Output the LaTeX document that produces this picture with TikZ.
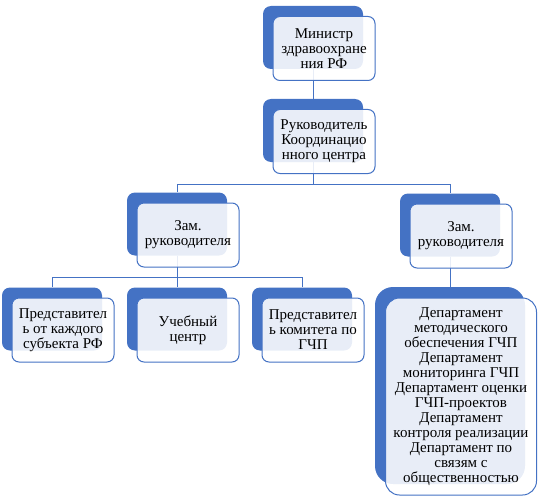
\documentclass[tikz,border=0pt]{standalone}
\usepackage{fontspec}
\setmainfont{Liberation Serif}
\newfontfamily\orgfont{Liberation Serif}
\usetikzlibrary{positioning,backgrounds}
\definecolor{orgblue}{RGB}{68,114,196}

\begin{document}
\begin{tikzpicture}[x=1pt,y=-1pt,font=\orgfont\fontsize{15}{15}\selectfont,
   back/.style={fill=orgblue,rounded corners=8pt,minimum width=100pt,minimum height=63pt,
             inner sep=0pt},
   front/.style={draw=orgblue,line width=1pt,fill=white,fill opacity=0.88,text opacity=1,
             rounded corners=7pt,minimum width=102pt,minimum height=64pt,inner sep=1pt,
             align=center,xshift=11pt,yshift=-11pt},
   link/.style={draw=orgblue,line width=0.9pt}]
  \useasboundingbox (0,0) rectangle (538,500);
  % top
  \node[back] (minb) at (313,37.5) {};
  \node[front] (min) at (minb) {Министр\\здравоохране\\ния РФ};
  \node[back] (rukb) at (313,130.5) {};
  \node[front] (ruk) at (rukb) {Руководитель\\Координацио\\нного центра};
  % deputies
  \node[back] (zlb) at (177,224) {};
  \node[front] (zl) at (zlb) {Зам.\\руководителя};
  \node[back] (zrb) at (450,225) {};
  \node[front] (zr) at (zrb) {Зам.\\руководителя};
  % left branch
  \node[back] (prb) at (52,319) {};
  \node[front] (pr) at (prb) {Представител\\ь от каждого\\субъекта РФ};
  \node[back] (ucb) at (177,319) {};
  \node[front] (uc) at (ucb) {Учебный\\центр};
  \node[back] (pkb) at (302,319) {};
  \node[front] (pk) at (pkb) {Представител\\ь комитета по\\ГЧП};
  % departments
  \node[back,minimum width=150pt,minimum height=197pt,rounded corners=18pt] (depb) at (450,385.5) {};
  \node[front,minimum width=151pt,minimum height=197pt,rounded corners=14pt] (dep) at (depb)
       {Департамент\\методического\\обеспечения ГЧП\\Департамент\\мониторинга ГЧП\\
        Департамент оценки\\ГЧП-проектов\\Департамент\\контроля реализации\\
        Департамент по\\связям с\\общественностью};
  \coordinate (bus1) at (313,184);
  \coordinate (bus2) at (177,277);
  \begin{scope}[on background layer]
    \draw[link] (minb.south) -- (rukb.north);
    \draw[link] (rukb.south) -- (bus1) -| (zlb.north);
    \draw[link] (bus1) -| (zrb.north);
    \draw[link] (zlb.south) -- (ucb.north);
    \draw[link] (bus2) -| (prb.north);
    \draw[link] (bus2) -| (pkb.north);
    \draw[link] (zrb.south) -- (depb.north);
  \end{scope}
\end{tikzpicture}
\end{document}
